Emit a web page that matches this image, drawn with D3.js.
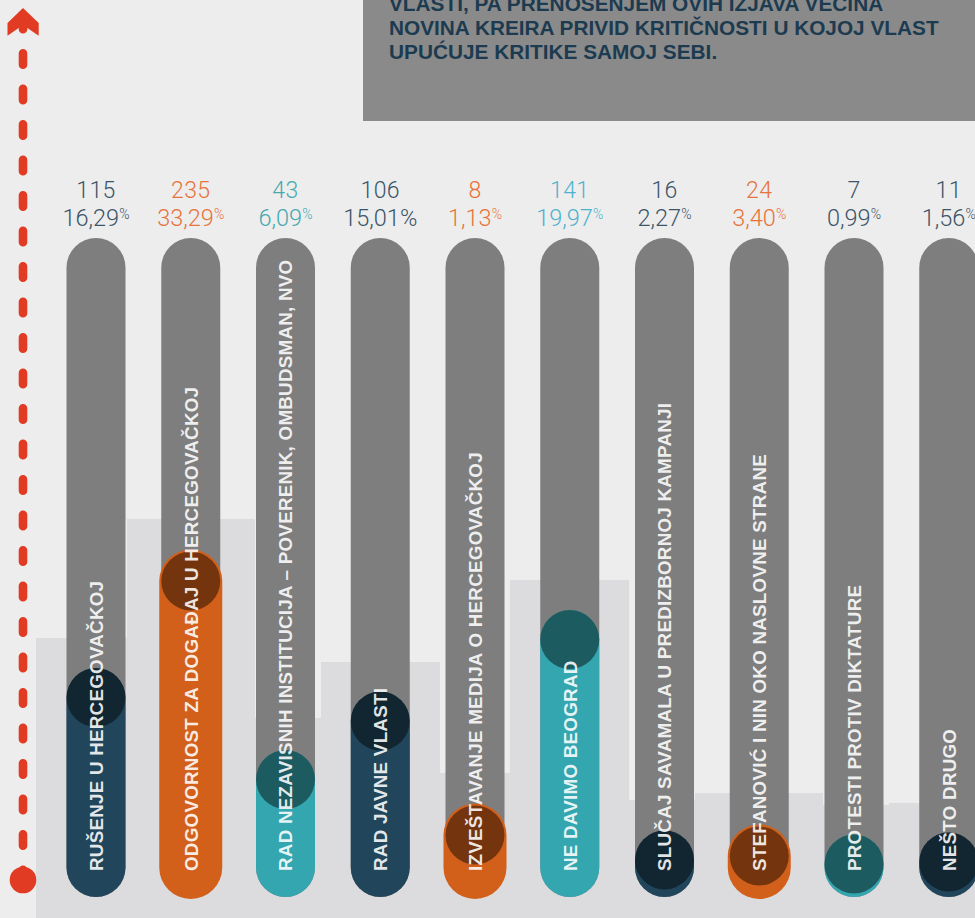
<!DOCTYPE html>
<html>
<head>
<meta charset="utf-8">
<script src="https://cdn.jsdelivr.net/npm/d3@7"></script>
<style>
  html, body { margin: 0; padding: 0; background: #ededed; }
  svg { display: block; }
</style>
</head>
<body>
<svg id="chart" width="975" height="918"></svg>
<script>
// data
const topics = [
  "RUŠENJE U HERCEGOVAČKOJ",
  "ODGOVORNOST ZA DOGAĐAJ U HERCEGOVAČKOJ",
  "RAD NEZAVISNIH INSTITUCIJA – POVERENIK, OMBUDSMAN, NVO",
  "RAD JAVNE VLASTI",
  "IZVEŠTAVANJE MEDIJA O HERCEGOVAČKOJ",
  "NE DAVIMO BEOGRAD",
  "SLUČAJ SAVAMALA U PREDIZBORNOJ KAMPANJI",
  "STEFANOVIĆ I NIN OKO NASLOVNE STRANE",
  "PROTESTI PROTIV DIKTATURE",
  "NEŠTO DRUGO"
];
const counts = [115, 235, 43, 106, 8, 141, 16, 24, 7, 11];
const shares = [16.29, 33.29, 6.09, 15.01, 1.13, 19.97, 2.27, 3.40, 0.99, 1.56];
const groups = ["navy", "orange", "teal", "navy", "orange", "teal", "navy", "orange", "teal", "navy"];
// height of the coloured fill inside each pill (drawn units)
const fillLevels = [170, 286.5, 88, 146.5, 32.5, 228, 7.5, 11.5, 3.5, 5.5];
const pillMax = 600;
// stepped backdrop behind the pills
const backdrop = [280, 399, 200, 256, 145, 338, 118, 125, 113, 115];
const backdropEdges = [-0.633, 0.327, 1.678, 2.375, 3.631, 4.369, 5.625, 6.322, 7.673, 8.369, 9.5];
const noteLines = [
  "VLASTI, PA PRENOŠENJEM OVIH IZJAVA VEĆINA",
  "NOVINA KREIRA PRIVID KRITIČNOSTI U KOJOJ VLAST",
  "UPUĆUJE KRITIKE SAMOJ SEBI."
];

const pillColor = { navy: "#21455a", orange: "#d2601b", teal: "#34a6b0" };
const numColor = { navy: "#3b5568", orange: "#e8723a", teal: "#46a9b0" };
const labelFont = '"Helvetica Neue", Helvetica, "Liberation Sans", Arial, sans-serif';
const numFont = 'Roboto, "Helvetica Neue", sans-serif';

const svg = d3.select("#chart");
const width = +svg.attr("width");
const height = +svg.attr("height");

const idx = d3.range(topics.length);
const x = d3.scaleLinear().domain([0, topics.length - 1]).range([96, 948.75]);
const y = d3.scaleLinear().domain([0, pillMax]).range([867.5, 267.5]);
const yBack = d3.scaleLinear().domain([0, 400]).range([height, height - 400]);
const pct = d3.formatLocale({ decimal: ",", thousands: ".", grouping: [3], currency: ["", "€"] }).format(".2f");

// backdrop steps
svg.append("g")
  .attr("fill", "#dcdcde")
  .selectAll("rect")
  .data(idx)
  .join("rect")
  .attr("x", i => x(backdropEdges[i]))
  .attr("width", i => x(backdropEdges[i + 1]) - x(backdropEdges[i]))
  .attr("y", i => yBack(backdrop[i]))
  .attr("height", i => height - yBack(backdrop[i]));

// note box
svg.append("rect")
  .attr("x", 363).attr("y", 0)
  .attr("width", width - 363).attr("height", 121)
  .attr("fill", "#8a8a8a");

svg.append("g")
  .selectAll("text")
  .data(noteLines)
  .join("text")
  .attr("x", 389)
  .attr("y", (d, i) => 11 + i * 24)
  .attr("fill", "#1c3b50")
  .style("font-family", labelFont)
  .style("font-weight", "bold")
  .style("font-size", "20.8px")
  .text(d => d);

// grey pills
const bars = svg.append("g");
const gw = 59;
bars.selectAll("rect.bg")
  .data(idx)
  .join("rect")
  .attr("class", "bg")
  .attr("x", i => x(i) - gw / 2)
  .attr("y", y(pillMax) - gw / 2)
  .attr("width", gw)
  .attr("height", y(0) - y(pillMax) + gw)
  .attr("rx", gw / 2)
  .attr("fill", "#7e7e7e");

// coloured fills
const fw = i => groups[i] === "orange" ? 63 : 59;
bars.selectAll("rect.fill")
  .data(idx)
  .join("rect")
  .attr("class", "fill")
  .attr("x", i => x(i) - fw(i) / 2)
  .attr("y", i => y(fillLevels[i]) - fw(i) / 2)
  .attr("width", fw)
  .attr("height", i => y(0) - y(fillLevels[i]) + fw(i))
  .attr("rx", i => fw(i) / 2)
  .attr("fill", i => pillColor[groups[i]]);

bars.selectAll("circle")
  .data(idx)
  .join("circle")
  .attr("cx", i => x(i))
  .attr("cy", i => y(fillLevels[i]))
  .attr("r", 29.5)
  .attr("fill", "#000")
  .attr("fill-opacity", 0.45);

// vertical labels
bars.selectAll("text")
  .data(idx)
  .join("text")
  .attr("transform", i => `translate(${x(i)},871) rotate(-90)`)
  .attr("dy", "0.36em")
  .attr("fill", "#fff")
  .attr("fill-opacity", 0.88)
  .style("font-family", labelFont)
  .style("font-weight", "bold")
  .style("font-size", "18.8px")
  .style("letter-spacing", "0.25px")
  .text(i => topics[i]);

// numbers on top
const tops = svg.append("g")
  .style("font-family", numFont)
  .style("font-weight", 300)
  .attr("text-anchor", "middle");

const tColor = i => {
  if (topics[i] === "NE DAVIMO BEOGRAD") return "#4db3cd";
  if (topics[i] === "PROTESTI PROTIV DIKTATURE") return numColor.navy;
  return numColor[groups[i]];
};

tops.selectAll("text.count")
  .data(idx)
  .join("text")
  .attr("class", "count")
  .attr("x", i => x(i))
  .attr("y", 198)
  .attr("fill", tColor)
  .style("font-size", "23px")
  .style("letter-spacing", "0.4px")
  .text(i => counts[i]);

const pctText = tops.selectAll("text.pct")
  .data(idx)
  .join("text")
  .attr("class", "pct")
  .attr("x", i => x(i))
  .attr("y", 226)
  .attr("fill", tColor)
  .style("font-size", "23.5px");

pctText.append("tspan").text(i => pct(shares[i]));
pctText.append("tspan")
  .attr("dy", i => i === 3 ? 0 : -7.5)
  .style("font-size", i => i === 3 ? "23.5px" : "14px")
  .text("%");

// red dashed arrow on the left
const axis = svg.append("g").attr("fill", "#e23b24").attr("stroke", "#e23b24");
axis.append("line")
  .attr("x1", 23).attr("x2", 23)
  .attr("y1", 17.8).attr("y2", 870)
  .attr("stroke-width", 8.6)
  .attr("stroke-linecap", "round")
  .attr("stroke-dasharray", "11.4 24.1");
axis.append("path")
  .attr("stroke", "none")
  .attr("d", "M23,8 L38.7,23 L38.7,35.7 L23,25 L7.5,35.7 L7.5,23 Z");
axis.append("circle")
  .attr("stroke", "none")
  .attr("cx", 23).attr("cy", 880).attr("r", 13.3);
</script>
</body>
</html>
